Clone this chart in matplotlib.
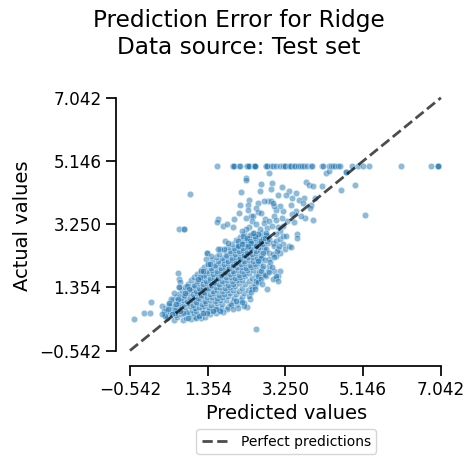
import matplotlib
matplotlib.use("Agg")
import matplotlib.pyplot as plt

# values
tick_values = [-0.542, 1.354, 3.250, 5.146, 7.042]

# houses capped at 5.0 in the target
capped_pred = [1.58, 1.96, 1.96, 1.99, 2.12, 2.15, 2.31, 2.31, 2.34, 2.37, 2.48, 2.48,
               2.50, 2.51, 2.78, 2.78, 2.81, 2.90, 2.94, 3.02, 3.12, 3.18, 3.25, 3.25,
               3.33, 3.35, 3.38, 3.47, 3.49, 3.56, 3.60, 3.65, 3.70, 3.77, 3.87, 3.91,
               4.14, 4.16, 4.32, 4.35, 4.40, 4.45, 4.52, 4.57, 4.88, 5.01, 5.15, 5.30,
               6.08, 6.81, 6.96, 6.98, 6.98]
capped_actual = [5.0] * len(capped_pred)

# scattered points around the main cloud
sparse_pred = [2.28, 2.28, 2.86, 2.92, 2.66, 3.74, 3.82, 3.93, 4.14, 4.24, 4.31, 4.73,
               4.73, 4.61, 4.95, 0.92, 2.17, 2.62, 3.16, 3.33, 3.27, 3.08, 2.90, 3.51,
               3.71, 3.59, 3.42, 3.39, 3.96, 3.88, 5.18, 3.69, 3.84, 3.93, 3.73, 3.63,
               3.50, 3.42, 3.47, 3.29, 3.19, 3.17, 3.20, 3.12, 3.03, 2.96, 2.83, 2.90,
               2.94, 2.72, 2.58, 2.54, 2.57, 2.36, 2.34, 2.29, 2.33, 2.13, 2.11, 1.99,
               1.61, 1.58, 1.73, 1.82, 1.98, 0.65, 0.77, 0.77, 2.42, 2.47, 2.43, 2.66,
               2.74, 2.72, 2.80, 2.78, 2.86, 2.92, 2.98, 3.03, 3.07, 3.11, 3.01, 2.54,
               2.62, 2.58, 2.51, 2.37, 2.29, 2.20, 2.21, 2.09, 2.09, 2.19, 2.32, 2.38,
               2.42, 2.34, 2.46, 2.54, 2.66, 2.74, 2.86, 2.94, 3.03, 3.11, 3.19, 3.27,
               3.20, 3.25, 3.33, 3.39, 3.53, 3.53, 2.98, 3.07, 3.12, 3.03, 2.78, 2.86,
               2.94, 2.85, 2.70, 2.66, 2.74, 2.58, 1.75, 1.65, 1.61, 1.77, 1.85, 1.34,
               1.34, 1.43, 1.31, 1.35, 1.40, 1.18, 1.24, 0.63, 0.65, 0.69, 0.65, 0.65,
               1.16, 1.12, 0.53, -0.02, -0.20, -0.06, -0.45, 0.25, 0.28, 0.31, 0.23,
               0.47, 0.41, 0.39, 0.63, 0.59, 0.56, 0.84, 0.90, 0.79, 2.52, 2.38, 2.31,
               2.25, 2.04, 1.93, 1.82, 1.73, 1.65, 1.55, 1.08, 1.14, 0.88, 0.75, 0.67,
               0.55, 0.49, 1.34, 1.24, 1.48, 2.98, 3.11, 3.07, 3.03, 2.78, 2.94, 2.82,
               2.86, 2.50, 2.44, 2.54, 2.58, 2.66, 2.70, 2.10, 2.25, 1.98, 2.20, 2.35,
               2.42, 2.50, 2.58, 2.65, 2.75, 2.85, 2.68, 2.88, 2.97, 3.05, 3.10, 2.92,
               3.01, 3.08, 2.81]
sparse_actual = [4.64, 4.57, 4.79, 4.49, 4.46, 4.53, 4.43, 4.39, 4.39, 4.79, 4.84, 4.83,
                 4.83, 4.29, 4.43, 4.16, 4.22, 4.24, 4.36, 4.24, 4.14, 4.14, 4.31, 4.19,
                 4.04, 3.99, 4.04, 3.84, 4.04, 3.84, 3.51, 3.89, 3.74, 3.37, 3.42, 3.49,
                 3.64, 3.54, 3.31, 3.34, 3.64, 3.44, 3.19, 3.79, 3.69, 3.79, 3.94, 3.94,
                 3.89, 3.94, 3.89, 3.74, 3.61, 3.99, 3.82, 3.44, 3.69, 3.84, 3.59, 3.41,
                 3.39, 3.31, 3.19, 3.24, 3.17, 3.09, 3.11, 3.11, 3.49, 3.49, 3.34, 3.59,
                 3.41, 3.29, 3.14, 2.99, 3.34, 3.19, 3.49, 3.37, 3.17, 3.04, 2.94, 3.24,
                 3.09, 2.94, 2.89, 3.17, 3.09, 3.04, 2.89, 2.74, 2.59, 2.64, 2.84, 2.74,
                 2.67, 2.59, 2.99, 2.59, 2.74, 2.84, 2.81, 2.69, 2.74, 2.81, 2.89, 2.89,
                 2.64, 2.51, 2.59, 2.57, 2.94, 2.84, 2.59, 2.51, 2.39, 2.29, 2.49, 2.39,
                 2.34, 2.19, 2.39, 2.24, 2.17, 2.14, 2.49, 2.49, 2.49, 2.74, 2.69, 2.37,
                 2.37, 2.29, 2.19, 2.04, 2.04, 1.84, 1.84, 1.79, 1.61, 1.51, 1.37, 1.37,
                 1.67, 1.59, 1.19, 0.92, 0.59, 0.59, 0.41, 0.79, 0.64, 0.49, 0.54,
                 1.01, 0.89, 0.69, 0.99, 0.84, 0.67, 1.39, 1.29, 1.19, 0.11, 1.01, 0.77,
                 0.89, 0.94, 0.81, 0.71, 0.61, 0.64, 0.69, 0.44, 0.49, 0.44, 0.57, 0.64,
                 0.59, 0.54, 0.59, 0.57, 0.64, 1.84, 1.84, 1.69, 1.64, 1.69, 1.59, 1.84,
                 1.99, 1.39, 1.29, 1.54, 1.69, 1.84, 1.99, 0.72, 0.80, 0.70, 0.90, 1.10,
                 1.22, 1.30, 1.50, 1.60, 1.72, 1.80, 1.45, 2.10, 2.25, 2.45, 2.60, 1.95,
                 1.70, 1.55, 1.30]

# dense body of the cloud, read band by band
core_pred = [
    0.36, 0.52, 0.61, 0.74, 0.83, 0.95, 1.05, 1.18, 1.30,
    0.30, 0.44, 0.58, 0.70, 0.79, 0.91, 1.02, 1.15, 1.27, 1.41, 1.55,
    0.35, 0.48, 0.62, 0.71, 0.86, 0.97, 1.08, 1.22, 1.35, 1.49, 1.64,
    0.33, 0.47, 0.59, 0.68, 0.80, 0.93, 1.04, 1.13, 1.26, 1.38, 1.52, 1.67, 1.85,
    0.42, 0.55, 0.66, 0.77, 0.88, 0.99, 1.10, 1.21, 1.32, 1.44, 1.58, 1.71, 1.90, 2.08,
    0.50, 0.63, 0.74, 0.85, 0.96, 1.07, 1.16, 1.28, 1.40, 1.53, 1.66, 1.80, 1.97, 2.15,
    0.58, 0.70, 0.81, 0.92, 1.02, 1.12, 1.23, 1.34, 1.45, 1.57, 1.70, 1.84, 2.00, 2.20,
    0.66, 0.78, 0.89, 1.00, 1.10, 1.19, 1.30, 1.41, 1.51, 1.63, 1.76, 1.90, 2.05, 2.25,
    0.72, 0.85, 0.97, 1.08, 1.17, 1.27, 1.37, 1.48, 1.59, 1.70, 1.83, 1.96, 2.12, 2.33,
    0.80, 0.94, 1.05, 1.15, 1.25, 1.35, 1.45, 1.55, 1.66, 1.78, 1.90, 2.03, 2.18, 2.40,
    0.88, 1.02, 1.13, 1.23, 1.33, 1.43, 1.53, 1.63, 1.74, 1.86, 1.98, 2.11, 2.27, 2.48,
    0.95, 1.10, 1.21, 1.31, 1.41, 1.51, 1.61, 1.71, 1.82, 1.94, 2.06, 2.19, 2.35, 2.55,
    1.02, 1.18, 1.30, 1.40, 1.50, 1.60, 1.70, 1.80, 1.91, 2.02, 2.14, 2.27, 2.43, 2.62,
    1.10, 1.26, 1.38, 1.49, 1.59, 1.69, 1.79, 1.89, 2.00, 2.11, 2.23, 2.36, 2.52, 2.70,
    1.18, 1.34, 1.47, 1.58, 1.68, 1.78, 1.88, 1.98, 2.09, 2.20, 2.32, 2.45, 2.60,
    1.27, 1.43, 1.56, 1.67, 1.77, 1.87, 1.97, 2.07, 2.18, 2.29, 2.41, 2.54, 2.68,
    1.36, 1.52, 1.65, 1.76, 1.86, 1.96, 2.06, 2.16, 2.27, 2.38, 2.50, 2.63,
    1.46, 1.61, 1.74, 1.85, 1.95, 2.05, 2.15, 2.25, 2.36, 2.47, 2.59,
    1.55, 1.70, 1.83, 1.94, 2.04, 2.14, 2.24, 2.34, 2.45, 2.56, 2.68,
    1.64, 1.80, 1.92, 2.03, 2.13, 2.23, 2.33, 2.43, 2.54, 2.65,
    1.74, 1.90, 2.01, 2.12, 2.22, 2.32, 2.42, 2.52, 2.63, 2.75,
    1.84, 2.00, 2.11, 2.21, 2.31, 2.41, 2.51, 2.61, 2.72,
    1.95, 2.10, 2.22, 2.32, 2.42, 2.52, 2.62, 2.71, 2.82,
    2.05, 2.20, 2.31, 2.41, 2.51, 2.61, 2.71, 2.80,
    2.14, 2.29, 2.40, 2.50, 2.60, 2.70, 2.79,
    2.24, 2.38, 2.49, 2.59, 2.69, 2.78,
]
core_actual = [
    0.42, 0.38, 0.45, 0.36, 0.44, 0.40, 0.47, 0.43, 0.46,
    0.53, 0.58, 0.51, 0.56, 0.60, 0.54, 0.58, 0.52, 0.57, 0.55, 0.59,
    0.63, 0.68, 0.64, 0.69, 0.62, 0.67, 0.65, 0.70, 0.63, 0.68, 0.66,
    0.74, 0.78, 0.73, 0.77, 0.75, 0.79, 0.72, 0.76, 0.78, 0.74, 0.77, 0.73, 0.76,
    0.86, 0.83, 0.88, 0.84, 0.87, 0.82, 0.89, 0.85, 0.87, 0.83, 0.88, 0.84, 0.86, 0.85,
    0.96, 0.93, 0.98, 0.94, 0.97, 0.92, 0.99, 0.95, 0.97, 0.93, 0.96, 0.98, 0.94, 0.97,
    1.06, 1.03, 1.08, 1.04, 1.07, 1.02, 1.09, 1.05, 1.07, 1.03, 1.06, 1.08, 1.04, 1.05,
    1.16, 1.13, 1.18, 1.14, 1.17, 1.12, 1.19, 1.15, 1.17, 1.13, 1.16, 1.18, 1.14, 1.17,
    1.26, 1.23, 1.28, 1.24, 1.27, 1.22, 1.29, 1.25, 1.27, 1.23, 1.26, 1.28, 1.24, 1.26,
    1.36, 1.33, 1.38, 1.34, 1.37, 1.32, 1.39, 1.35, 1.37, 1.33, 1.36, 1.38, 1.34, 1.37,
    1.46, 1.43, 1.48, 1.44, 1.47, 1.42, 1.49, 1.45, 1.47, 1.43, 1.46, 1.48, 1.44, 1.45,
    1.57, 1.53, 1.58, 1.54, 1.56, 1.52, 1.59, 1.55, 1.57, 1.53, 1.56, 1.58, 1.54, 1.56,
    1.66, 1.63, 1.68, 1.64, 1.67, 1.62, 1.69, 1.65, 1.67, 1.63, 1.66, 1.68, 1.64, 1.66,
    1.76, 1.73, 1.78, 1.74, 1.77, 1.72, 1.79, 1.75, 1.77, 1.73, 1.76, 1.78, 1.74, 1.76,
    1.86, 1.83, 1.88, 1.84, 1.87, 1.82, 1.89, 1.85, 1.87, 1.83, 1.86, 1.88, 1.84,
    1.96, 1.93, 1.98, 1.94, 1.97, 1.92, 1.99, 1.95, 1.97, 1.93, 1.96, 1.98, 1.94,
    2.06, 2.03, 2.08, 2.04, 2.07, 2.02, 2.09, 2.05, 2.07, 2.03, 2.06, 2.08,
    2.16, 2.13, 2.18, 2.14, 2.17, 2.12, 2.19, 2.15, 2.17, 2.13, 2.16,
    2.26, 2.23, 2.28, 2.24, 2.27, 2.22, 2.29, 2.25, 2.27, 2.23, 2.26,
    2.36, 2.33, 2.38, 2.34, 2.37, 2.32, 2.39, 2.35, 2.37, 2.33,
    2.46, 2.43, 2.48, 2.44, 2.47, 2.42, 2.49, 2.45, 2.47, 2.43,
    2.56, 2.53, 2.58, 2.54, 2.57, 2.52, 2.59, 2.55, 2.57,
    2.66, 2.63, 2.68, 2.64, 2.67, 2.62, 2.69, 2.65, 2.67,
    2.76, 2.73, 2.78, 2.74, 2.77, 2.72, 2.79, 2.75,
    2.86, 2.83, 2.88, 2.84, 2.87, 2.82, 2.89,
    2.96, 2.93, 2.98, 2.94, 2.97, 2.92,
]


def fmt(v):
    return ("%.3f" % v).replace("-", "\u2212")


def main():
    y_pred = core_pred + sparse_pred + capped_pred
    y_true = core_actual + sparse_actual + capped_actual
    lo, hi = tick_values[0], tick_values[-1]

    fig = plt.figure(figsize=(4.77, 4.63), dpi=100)
    ax = fig.add_axes([0.2432, 0.2095, 0.7136, 0.6065])

    ax.scatter(y_pred, y_true, s=22, color="#1f77b4", alpha=0.5,
               edgecolors="white", linewidths=0.5, zorder=2)
    ax.plot([lo, hi], [lo, hi], ls="--", color="black", alpha=0.7, lw=2,
            label="Perfect predictions", zorder=3)

    ax.set_xlim(-0.883, 7.42)
    ax.set_ylim(-1.006, 7.42)
    ax.set_xticks(tick_values)
    ax.set_yticks(tick_values)
    ax.set_xticklabels([fmt(v) for v in tick_values])
    ax.set_yticklabels([fmt(v) for v in tick_values])
    ax.tick_params(labelsize=12.2, length=7, width=1.25, pad=3.5)

    for side in ["top", "right"]:
        ax.spines[side].set_visible(False)
    for side in ["left", "bottom"]:
        ax.spines[side].set_linewidth(1.25)
        ax.spines[side].set_bounds(lo, hi)

    ax.set_xlabel("Predicted values", fontsize=14)
    ax.set_ylabel("Actual values", fontsize=14, labelpad=5)
    ax.legend(loc="upper center", bbox_to_anchor=(0.5, -0.2), fontsize=10)

    fig.suptitle("Prediction Error for Ridge\nData source: Test set", fontsize=16.7, y=0.98)
    fig.savefig("out.png", dpi=100)


if __name__ == "__main__":
    main()
